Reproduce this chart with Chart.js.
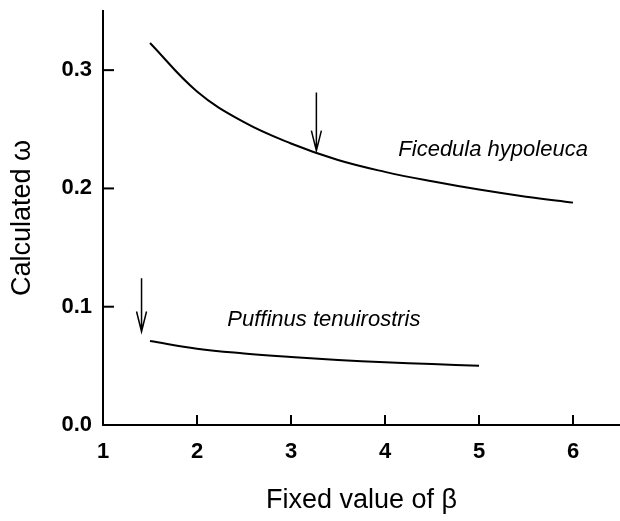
<!DOCTYPE html>
<html>
<head>
<meta charset="utf-8">
<script src="https://cdn.jsdelivr.net/npm/chart.js@4/dist/chart.umd.min.js"></script>
<style>
  html, body { margin: 0; padding: 0; background: #fff; }
  #wrap { width: 620px; height: 521px; }
</style>
</head>
<body>
<div id="wrap"><canvas id="myChart"></canvas></div>
<script>
// curve for Ficedula hypoleuca
const betaF = [1.5, 2, 2.5, 3, 3.5, 4, 4.5, 5, 5.5, 6];
const omegaF = [0.323, 0.282, 0.256, 0.238, 0.224, 0.214, 0.206, 0.199, 0.193, 0.188];
// curve for Puffinus tenuirostris
const betaP = [1.5, 2, 2.5, 3, 3.5, 4, 4.5, 5];
const omegaP = [0.071, 0.0645, 0.0605, 0.0575, 0.055, 0.053, 0.0515, 0.050];

const speciesNames = ['Ficedula hypoleuca', 'Puffinus tenuirostris'];
const labelBeta = [5.15, 3.35];
const labelOmega = [0.2325, 0.0888];

// arrows marking the chosen beta
const arrowBeta = [3.27, 1.41];
const arrowFrom = [0.281, 0.124];
const arrowTo = [0.232, 0.079];

const xTicks = [1, 2, 3, 4, 5, 6];
const yTicks = [0, 0.1, 0.2, 0.3];

const toPts = (xs, ys) => xs.map((x, i) => ({x: x, y: ys[i]}));

const extras = {
  id: 'extras',
  afterDatasetsDraw(chart) {
    const ctx = chart.ctx;
    const xs = chart.scales.x, ys = chart.scales.y;
    ctx.save();
    ctx.strokeStyle = '#000';
    ctx.lineWidth = 2;
    // inward tick marks
    xTicks.slice(1).forEach(v => {
      const px = xs.getPixelForValue(v);
      ctx.beginPath();
      ctx.moveTo(px, ys.bottom);
      ctx.lineTo(px, ys.bottom - 10);
      ctx.stroke();
    });
    yTicks.slice(1).forEach(v => {
      const py = ys.getPixelForValue(v);
      ctx.beginPath();
      ctx.moveTo(xs.left, py);
      ctx.lineTo(xs.left + 11, py);
      ctx.stroke();
    });
    // arrows
    ctx.lineWidth = 1.5;
    arrowBeta.forEach((b, i) => {
      const px = xs.getPixelForValue(b);
      const y1 = ys.getPixelForValue(arrowFrom[i]);
      const y2 = ys.getPixelForValue(arrowTo[i]);
      ctx.beginPath();
      ctx.moveTo(px, y1);
      ctx.lineTo(px, y2);
      ctx.moveTo(px - 5, y2 - 20);
      ctx.lineTo(px, y2);
      ctx.lineTo(px + 5, y2 - 20);
      ctx.stroke();
    });
    // species labels
    ctx.fillStyle = '#000';
    ctx.font = 'italic 22px "Liberation Sans", Arial, sans-serif';
    ctx.textAlign = 'center';
    ctx.textBaseline = 'middle';
    speciesNames.forEach((s, i) => {
      ctx.fillText(s, xs.getPixelForValue(labelBeta[i]), ys.getPixelForValue(labelOmega[i]));
    });
    ctx.restore();
  }
};

const ctx1 = document.getElementById('myChart');
new Chart(ctx1, {
  type: 'line',
  data: {
    datasets: [{
      label: speciesNames[0],
      data: toPts(betaF, omegaF),
      borderColor: '#000',
      borderWidth: 2,
      pointRadius: 0,
      tension: 0.4,
      fill: false,
    }, {
      label: speciesNames[1],
      data: toPts(betaP, omegaP),
      borderColor: '#000',
      borderWidth: 2,
      pointRadius: 0,
      tension: 0.4,
      fill: false,
    }]
  },
  options: {
    responsive: true,
    maintainAspectRatio: false,
    animation: false,
    layout: { padding: { top: 11, right: 0, left: 0, bottom: 0 } },
    plugins: {
      legend: { display: false },
      tooltip: { enabled: false },
    },
    scales: {
      x: {
        type: 'linear',
        min: 1,
        max: 6.5,
        afterBuildTicks: (s) => { s.ticks = xTicks.map(v => ({value: v})); },
        afterFit: (s) => { s.height = 96; s.paddingLeft = 0; s.paddingRight = 0; },
        grid: { display: false, drawTicks: false },
        border: { display: true, color: '#000', width: 2 },
        ticks: {
          padding: 14,
          color: '#000',
          font: { family: '"Liberation Sans", Arial, sans-serif', size: 22, weight: 'bold' },
          callback: (v) => String(v),
        },
        title: {
          display: true,
          text: 'Fixed value of β',
          color: '#000',
          padding: { top: 0, bottom: 4 },
          font: { family: '"Liberation Sans", Arial, sans-serif', size: 27 },
        }
      },
      y: {
        type: 'linear',
        min: 0,
        max: 0.35,
        afterBuildTicks: (s) => { s.ticks = yTicks.map(v => ({value: v})); },
        afterFit: (s) => { s.width = 103; s.paddingTop = 0; s.paddingBottom = 0; },
        grid: { display: false, drawTicks: false },
        border: { display: true, color: '#000', width: 2 },
        ticks: {
          padding: 11,
          color: '#000',
          font: { family: '"Liberation Sans", Arial, sans-serif', size: 22, weight: 'bold' },
          callback: (v) => Number(v).toFixed(1),
        },
        title: {
          display: true,
          text: 'Calculated ω',
          color: '#000',
          padding: { top: 6, bottom: 0 },
          font: { family: '"Liberation Sans", Arial, sans-serif', size: 27 },
        }
      }
    }
  },
  plugins: [extras]
});
</script>
</body>
</html>
